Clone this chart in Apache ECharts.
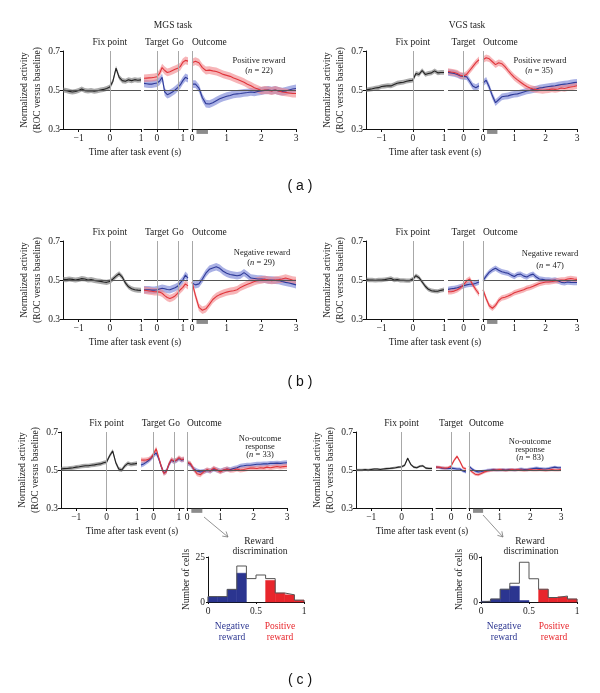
<!DOCTYPE html>
<html><head><meta charset="utf-8">
<script src="https://cdn.jsdelivr.net/npm/echarts@6/dist/echarts.min.js"></script>
<style>html,body{margin:0;padding:0;background:#fff}#c{width:600px;height:693px}</style>
</head><body><div id="c"></div>
<script>
// ---------- DATA ----------
const T1 = [-1.5,-1.4,-1.3,-1.2,-1.1,-1.0,-0.9,-0.8,-0.7,-0.6,-0.5,-0.4,-0.3,-0.2,-0.1,0,0.1,0.2,0.3,0.4,0.5,0.6,0.7,0.8,0.9,1.0];
const T2_MGS = [-0.5,-0.4,-0.3,-0.2,-0.1,0,0.1,0.2,0.3,0.4,0.5,0.6,0.7,0.8,0.9,1.0,1.1,1.2];
const T2_VGS = [-0.5,-0.4,-0.3,-0.2,-0.1,0,0.1,0.2,0.3,0.4,0.5];
const T3 = [0,0.1,0.2,0.3,0.4,0.5,0.6,0.7,0.8,0.9,1.0,1.1,1.2,1.3,1.4,1.5,1.6,1.7,1.8,1.9,2.0,2.1,2.2,2.3,2.4,2.5,2.6,2.7,2.8,2.9,3.0];

const TICKS_SEG1 = [-1,0,1];
const TICKS_SEG2_MGS = [0,1];
const TICKS_SEG2_VGS = [0];
const TICKS_SEG3 = [0,1,2,3];
const TICKS_Y = [0.3,0.5,0.7];
const GO_TIME = 0.81;
const REWARD_WINDOW = [0.13,0.46];

// (a) MGS positive reward
const aL_black = [0.500,0.497,0.493,0.490,0.492,0.497,0.505,0.497,0.495,0.497,0.494,0.496,0.500,0.503,0.508,0.515,0.545,0.612,0.565,0.548,0.545,0.552,0.548,0.553,0.550,0.552];
const aL_red2  = [0.560,0.561,0.562,0.563,0.565,0.568,0.585,0.615,0.600,0.590,0.594,0.600,0.606,0.612,0.620,0.642,0.652,0.648];
const aL_blue2 = [0.534,0.532,0.530,0.530,0.533,0.536,0.545,0.565,0.490,0.476,0.482,0.490,0.500,0.512,0.526,0.548,0.565,0.558];
const aL_red3  = [0.640,0.648,0.640,0.615,0.600,0.602,0.598,0.595,0.588,0.580,0.575,0.570,0.562,0.555,0.548,0.540,0.530,0.522,0.512,0.505,0.497,0.500,0.498,0.495,0.500,0.495,0.490,0.488,0.485,0.482,0.482];
const aL_blue3 = [0.530,0.530,0.510,0.460,0.430,0.428,0.435,0.445,0.455,0.462,0.468,0.472,0.478,0.480,0.482,0.485,0.487,0.490,0.488,0.492,0.495,0.498,0.500,0.497,0.500,0.495,0.492,0.495,0.500,0.505,0.508];
// (a) VGS positive reward
const aR_black = [0.500,0.503,0.506,0.510,0.512,0.518,0.520,0.522,0.521,0.528,0.535,0.538,0.540,0.545,0.548,0.550,0.585,0.580,0.600,0.580,0.585,0.588,0.598,0.588,0.590,0.590];
const aR_red2  = [0.595,0.592,0.590,0.585,0.575,0.572,0.580,0.600,0.620,0.640,0.655];
const aR_blue2 = [0.590,0.588,0.585,0.580,0.572,0.570,0.568,0.545,0.520,0.512,0.522];
const aR_red3  = [0.655,0.665,0.660,0.645,0.630,0.640,0.635,0.620,0.600,0.582,0.565,0.552,0.540,0.528,0.518,0.510,0.505,0.502,0.500,0.498,0.500,0.502,0.505,0.503,0.505,0.510,0.508,0.512,0.515,0.518,0.522];
const aR_blue3 = [0.535,0.550,0.515,0.470,0.435,0.450,0.465,0.468,0.470,0.475,0.478,0.480,0.485,0.490,0.495,0.498,0.502,0.505,0.510,0.512,0.515,0.518,0.520,0.522,0.525,0.528,0.530,0.532,0.535,0.538,0.540];
// (b) MGS negative reward
const bL_black = [0.503,0.502,0.505,0.503,0.500,0.503,0.507,0.505,0.500,0.502,0.498,0.495,0.493,0.490,0.488,0.492,0.505,0.520,0.532,0.515,0.485,0.465,0.455,0.450,0.448,0.447];
const bL_red2  = [0.448,0.446,0.444,0.442,0.440,0.440,0.438,0.432,0.420,0.410,0.405,0.410,0.418,0.432,0.450,0.462,0.480,0.470];
const bL_blue2 = [0.450,0.450,0.450,0.448,0.448,0.450,0.454,0.458,0.455,0.451,0.450,0.455,0.460,0.468,0.485,0.500,0.525,0.510];
const bL_red3  = [0.490,0.420,0.360,0.345,0.352,0.375,0.400,0.415,0.425,0.432,0.438,0.442,0.445,0.450,0.462,0.470,0.478,0.485,0.492,0.497,0.500,0.503,0.500,0.497,0.500,0.502,0.505,0.510,0.505,0.500,0.498];
const bL_blue3 = [0.485,0.475,0.480,0.505,0.535,0.555,0.562,0.568,0.560,0.545,0.535,0.528,0.525,0.522,0.525,0.538,0.525,0.510,0.508,0.505,0.505,0.503,0.500,0.500,0.498,0.497,0.492,0.488,0.485,0.480,0.475];
// (b) VGS negative reward
const bR_black = [0.502,0.500,0.500,0.498,0.500,0.500,0.502,0.505,0.508,0.500,0.502,0.498,0.498,0.497,0.497,0.505,0.522,0.512,0.490,0.468,0.452,0.445,0.443,0.442,0.447,0.450];
const bR_red2  = [0.440,0.440,0.443,0.450,0.460,0.475,0.495,0.505,0.475,0.450,0.428];
const bR_blue2 = [0.452,0.455,0.457,0.460,0.465,0.470,0.475,0.478,0.478,0.483,0.490];
const bR_red3  = [0.450,0.405,0.368,0.355,0.370,0.395,0.408,0.412,0.418,0.425,0.435,0.440,0.445,0.450,0.458,0.462,0.468,0.475,0.482,0.486,0.490,0.490,0.492,0.495,0.497,0.500,0.500,0.505,0.508,0.505,0.503];
const bR_blue3 = [0.497,0.520,0.540,0.552,0.560,0.550,0.542,0.538,0.535,0.525,0.518,0.528,0.530,0.520,0.515,0.525,0.530,0.515,0.505,0.503,0.500,0.500,0.498,0.500,0.495,0.488,0.486,0.490,0.488,0.487,0.487];
// (c) MGS no-outcome response
const cL_black = [0.505,0.507,0.508,0.510,0.512,0.515,0.517,0.520,0.522,0.522,0.525,0.527,0.530,0.532,0.538,0.542,0.575,0.600,0.540,0.505,0.500,0.522,0.535,0.530,0.532,0.535];
const cL_red2  = [0.553,0.552,0.553,0.556,0.565,0.585,0.612,0.565,0.520,0.482,0.490,0.530,0.555,0.548,0.552,0.565,0.555,0.558];
const cL_blue2 = [0.526,0.532,0.540,0.550,0.562,0.578,0.590,0.560,0.518,0.485,0.492,0.528,0.552,0.545,0.550,0.560,0.552,0.555];
const cL_red3  = [0.540,0.535,0.505,0.480,0.475,0.490,0.502,0.495,0.510,0.500,0.490,0.500,0.505,0.498,0.500,0.505,0.500,0.503,0.507,0.510,0.510,0.508,0.512,0.510,0.515,0.512,0.515,0.518,0.515,0.518,0.520];
const cL_blue3 = [0.538,0.530,0.505,0.495,0.490,0.492,0.498,0.495,0.505,0.500,0.495,0.500,0.505,0.502,0.508,0.512,0.520,0.522,0.525,0.525,0.528,0.530,0.530,0.532,0.532,0.535,0.535,0.536,0.535,0.537,0.538];
// (c) VGS no-outcome response
const cR_black = [0.500,0.500,0.500,0.502,0.500,0.503,0.505,0.505,0.503,0.505,0.507,0.508,0.510,0.512,0.515,0.517,0.525,0.562,0.530,0.515,0.512,0.520,0.522,0.510,0.508,0.508];
const cR_red2  = [0.515,0.515,0.512,0.510,0.512,0.520,0.550,0.572,0.545,0.512,0.505];
const cR_blue2 = [0.515,0.513,0.510,0.508,0.508,0.510,0.508,0.505,0.505,0.495,0.490];
const cR_red3  = [0.505,0.490,0.478,0.475,0.482,0.490,0.495,0.497,0.500,0.500,0.502,0.500,0.498,0.500,0.502,0.500,0.502,0.500,0.498,0.500,0.502,0.500,0.500,0.502,0.500,0.498,0.500,0.502,0.500,0.500,0.502];
const cR_blue3 = [0.520,0.505,0.495,0.490,0.492,0.495,0.498,0.500,0.502,0.500,0.500,0.502,0.500,0.503,0.502,0.500,0.503,0.505,0.503,0.502,0.505,0.508,0.510,0.508,0.506,0.505,0.508,0.512,0.515,0.512,0.512];

// SEM half-widths [black, red/blue]
const SEM_aL = [0.013,0.020], SEM_aR = [0.012,0.017], SEM_bL = [0.013,0.019];
const SEM_bR = [0.011,0.014], SEM_cL = [0.011,0.013], SEM_cR = [0.006,0.008];

// Reward discrimination histograms
const HIST_EDGES = [0,0.1,0.2,0.3,0.4,0.5,0.6,0.7,0.8,0.9,1.0];
const histL_total = [3,3,7,20,13,15,13,5,4,1];
const histL_neg   = [3,3,7,16,0,0,0,0,0,0];
const histL_pos   = [0,0,0,0,0,0,12,5,4,1];
const histR_total = [1,4,17,25,53,31,17,6,8,4];
const histR_neg   = [1,4,17,21,2,0,0,0,0,0];
const histR_pos   = [0,0,0,0,0,0,17,6,7,4];
const HIST_L_TICKS_Y = [0,25];
const HIST_R_TICKS_Y = [0,60];
const HIST_TICKS_X = [0,0.5,1];

// ---------- STYLE / LAYOUT ----------
const F = '"Liberation Serif","DejaVu Serif",serif';
const FS = 9.5;
const RED = '#e0353b', RED_BAND = 'rgba(242,128,132,0.58)';
const BLUE = '#2e3a98', BLUE_BAND = 'rgba(108,120,210,0.58)';
const BLACK = '#222', BLACK_BAND = 'rgba(110,110,110,0.58)';
const HIST_BLUE = '#2b3590', HIST_RED = '#e8262c';

const LAYOUT = {
  aL:{top:51,h:78,segs:[[63,78],[144,44],[192,104]]},
  aR:{top:51,h:78,segs:[[366,78],[448,31],[483,94]]},
  bL:{top:241,h:78,segs:[[63,78],[144,44],[192,104]]},
  bR:{top:241,h:78,segs:[[366,78],[448,31],[483,94]]},
  cL:{top:432,h:76,segs:[[61,76],[141,43],[187,100]]},
  cR:{top:432,h:76,segs:[[356,76],[436,30],[469,92]]}
};

const PANELS = [
  {L:LAYOUT.aL, k:aL_black, r2:aL_red2, b2:aL_blue2, r3:aL_red3, b3:aL_blue3, t2:T2_MGS, ticks2:TICKS_SEG2_MGS, go:true, sem:SEM_aL},
  {L:LAYOUT.aR, k:aR_black, r2:aR_red2, b2:aR_blue2, r3:aR_red3, b3:aR_blue3, t2:T2_VGS, ticks2:TICKS_SEG2_VGS, go:false, sem:SEM_aR},
  {L:LAYOUT.bL, k:bL_black, r2:bL_red2, b2:bL_blue2, r3:bL_red3, b3:bL_blue3, t2:T2_MGS, ticks2:TICKS_SEG2_MGS, go:true, sem:SEM_bL},
  {L:LAYOUT.bR, k:bR_black, r2:bR_red2, b2:bR_blue2, r3:bR_red3, b3:bR_blue3, t2:T2_VGS, ticks2:TICKS_SEG2_VGS, go:false, sem:SEM_bR},
  {L:LAYOUT.cL, k:cL_black, r2:cL_red2, b2:cL_blue2, r3:cL_red3, b3:cL_blue3, t2:T2_MGS, ticks2:TICKS_SEG2_MGS, go:true, sem:SEM_cL, arrow:[[204,517],[228,537]]},
  {L:LAYOUT.cR, k:cR_black, r2:cR_red2, b2:cR_blue2, r3:cR_red3, b3:cR_blue3, t2:T2_VGS, ticks2:TICKS_SEG2_VGS, go:false, sem:SEM_cR, arrow:[[483,515],[503,537]]}
];

const grids=[], xAxes=[], yAxes=[], series=[], graphics=[];
const fmtNum = v => (v < 0 ? '\u2212' + Math.abs(v) : String(v));

function addGrid(left, top, w, h){ grids.push({left, top, width:w, height:h}); return grids.length-1; }
function xAx(g, min, max, ticks){
  return {gridIndex:g, type:'value', min, max,
    axisLine:{show:true, onZero:false, lineStyle:{color:'#111', width:1}},
    axisTick:{show:true, length:3, customValues:ticks, lineStyle:{color:'#111'}},
    axisLabel:{customValues:ticks, fontFamily:F, fontSize:FS, color:'#222', margin:4, formatter:fmtNum},
    splitLine:{show:false}};
}
function yAx(g, show){
  const a = {gridIndex:g, type:'value', min:0.3, max:0.7, show:show, splitLine:{show:false},
    axisLine:{show:true, onZero:false, lineStyle:{color:'#111', width:1}},
    axisTick:{show:true, length:3, customValues:TICKS_Y, lineStyle:{color:'#111'}},
    axisLabel:{customValues:TICKS_Y, fontFamily:F, fontSize:FS, color:'#222', margin:3, formatter:v=>v.toFixed(1)}};
  if (show){
    Object.assign(a, {name:'Normalized activity\n(ROC versus baseline)', nameLocation:'middle', nameGap:19,
      nameTextStyle:{fontFamily:F, fontSize:FS, color:'#222', lineHeight:13}});
  }
  return a;
}
function ml(data){ return {silent:true, symbol:['none','none'], animation:false, data}; }
function hline(){ return {yAxis:0.5, lineStyle:{color:'#555', width:1, type:'solid'}, label:{show:false}}; }
function vline(x, text, align){
  return {xAxis:x, lineStyle:{color:'#a8a8a8', width:1, type:'solid'},
    label:{show:true, position:'end', formatter:text, fontFamily:F, fontSize:FS, color:'#222', distance:4, align:align||'center'}};
}
function addTrace(g, times, vals, sem, color, bandColor, extra){
  series.push({type:'custom', xAxisIndex:g, yAxisIndex:g, silent:true, z:2,
    data: times.map((t,i)=>[t, vals[i]-sem, vals[i]+sem]),
    encode:{x:0, y:[1,2]},
    renderItem:(params, api)=>{
      if (params.dataIndex !== 0) return null;
      const up = times.map((t,i)=>api.coord([t, vals[i]+sem]));
      const dn = times.map((t,i)=>api.coord([t, vals[i]-sem])).reverse();
      return {type:'polygon', shape:{points:up.concat(dn)}, style:{fill:bandColor}};
    }});
  const m = {type:'line', xAxisIndex:g, yAxisIndex:g, data:times.map((t,i)=>[t, vals[i]]),
    symbol:'none', lineStyle:{color, width:1.1}, silent:true, z:3};
  if (extra) Object.assign(m, extra);
  series.push(m);
}

PANELS.forEach(p => {
  const {top, h, segs} = p.L;
  const g1 = addGrid(segs[0][0], top, segs[0][1], h);
  xAxes.push(xAx(g1, T1[0], T1[T1.length-1], TICKS_SEG1)); yAxes.push(yAx(g1, true));
  addTrace(g1, T1, p.k, p.sem[0], BLACK, BLACK_BAND, {markLine: ml([hline(), vline(0,'Fix point')])});
  const g2 = addGrid(segs[1][0], top, segs[1][1], h);
  xAxes.push(xAx(g2, p.t2[0], p.t2[p.t2.length-1], p.ticks2)); yAxes.push(yAx(g2, false));
  const ev2 = [hline(), vline(0,'Target')];
  if (p.go) ev2.push(vline(GO_TIME,'Go'));
  addTrace(g2, p.t2, p.b2, p.sem[1], BLUE, BLUE_BAND, {markLine: ml(ev2)});
  addTrace(g2, p.t2, p.r2, p.sem[1], RED, RED_BAND);
  const g3 = addGrid(segs[2][0], top, segs[2][1], h);
  xAxes.push(xAx(g3, T3[0], T3[T3.length-1], TICKS_SEG3)); yAxes.push(yAx(g3, false));
  addTrace(g3, T3, p.b3, p.sem[1], BLUE, BLUE_BAND, {markLine: ml([hline(), vline(0,'Outcome','left')])});
  addTrace(g3, T3, p.r3, p.sem[1], RED, RED_BAND);
  series.push({type:'line', xAxisIndex:g3, yAxisIndex:g3, data:REWARD_WINDOW.map(t=>[t,0.285]), symbol:'none',
    clip:false, lineStyle:{color:'#8c8c8c', width:4, cap:'butt'}, silent:true, z:4});
  if (p.arrow){
    const [[x1,y1],[x2,y2]] = p.arrow;
    const d = Math.hypot(x2-x1, y2-y1), ux=(x2-x1)/d, uy=(y2-y1)/d;
    graphics.push({type:'line', shape:{x1,y1,x2,y2}, style:{stroke:'#777', lineWidth:0.8}});
    graphics.push({type:'polyline', shape:{points:[[x2-ux*5-uy*3, y2-uy*5+ux*3],[x2,y2],[x2-ux*5+uy*3, y2-uy*5-ux*3]]},
      style:{stroke:'#777', lineWidth:0.8, fill:null}});
  }
});

function rects(g, counts, fill){
  series.push({type:'custom', xAxisIndex:g, yAxisIndex:g, silent:true, z:2,
    data: counts.map((c,i)=>[HIST_EDGES[i], HIST_EDGES[i+1], c]),
    renderItem:(params, api)=>{
      if (!api.value(2)) return null;
      const p0 = api.coord([api.value(0), api.value(2)]);
      const p1 = api.coord([api.value(1), 0]);
      return {type:'rect', shape:{x:p0[0], y:p0[1], width:p1[0]-p0[0], height:p1[1]-p0[1]},
        style:{fill, stroke:fill, lineWidth:0.5}};
    }});
}
function addHist(left, top, total, neg, pos, yticks){
  const g = addGrid(left, top, 96, 45);
  xAxes.push({gridIndex:g, type:'value', min:0, max:1,
    axisLine:{show:true, onZero:false, lineStyle:{color:'#111'}},
    axisTick:{show:true, length:2, customValues:HIST_TICKS_X, lineStyle:{color:'#111'}},
    axisLabel:{customValues:HIST_TICKS_X, fontFamily:F, fontSize:FS, color:'#222', margin:4, formatter:v=>String(v)},
    splitLine:{show:false}});
  yAxes.push({gridIndex:g, type:'value', min:0, max:yticks[yticks.length-1],
    axisLine:{show:true, onZero:false, lineStyle:{color:'#111'}},
    axisTick:{show:true, length:2, customValues:yticks, lineStyle:{color:'#111'}},
    axisLabel:{customValues:yticks, fontFamily:F, fontSize:FS, color:'#222', margin:3},
    splitLine:{show:false},
    name:'Number of cells', nameLocation:'middle', nameGap:17, nameTextStyle:{fontFamily:F, fontSize:FS, color:'#222'}});
  rects(g, neg, HIST_BLUE);
  rects(g, pos, HIST_RED);
  const step = [[0,0]];
  total.forEach((c,i)=>step.push([HIST_EDGES[i], c]));
  step.push([1, total[total.length-1]]); step.push([1,0]);
  series.push({type:'line', xAxisIndex:g, yAxisIndex:g, data:step, step:'end', symbol:'none',
    lineStyle:{color:'#555', width:1}, silent:true, z:3});
}
addHist(208, 557, histL_total, histL_neg, histL_pos, HIST_L_TICKS_Y);
addHist(481, 557, histR_total, histR_neg, histR_pos, HIST_R_TICKS_Y);

function txt(x, y, text, opts){
  const o = opts || {};
  graphics.push({type:'text', x, y, silent:true, z:10, style:Object.assign({text, textAlign:'center', textVerticalAlign:'middle',
    fontFamily:F, fontSize:FS, fill:'#222'}, o)});
}
const richN = {i:{fontStyle:'italic', fontFamily:F, fontSize:8.5, fill:'#222'}};
txt(173, 25, 'MGS task'); txt(467, 25, 'VGS task');
[[135,152],[435,152],[135,342],[435,342],[132,531],[422,531]].forEach(([x,y])=>txt(x,y,'Time after task event (s)'));
txt(259, 61, 'Positive reward', {fontSize:8.5}); txt(259, 71, '({i|n} = 22)', {fontSize:8.5, rich:richN});
txt(540, 61, 'Positive reward', {fontSize:8.5}); txt(539, 71, '({i|n} = 35)', {fontSize:8.5, rich:richN});
txt(262, 253, 'Negative reward', {fontSize:8.5}); txt(261, 263, '({i|n} = 29)', {fontSize:8.5, rich:richN});
txt(550, 254, 'Negative reward', {fontSize:8.5}); txt(550, 266, '({i|n} = 47)', {fontSize:8.5, rich:richN});
txt(260, 439, 'No-outcome', {fontSize:8.5}); txt(260, 446.5, 'response', {fontSize:8.5}); txt(260, 454.5, '({i|n} = 33)', {fontSize:8.5, rich:richN});
txt(530, 442, 'No-outcome', {fontSize:8.5}); txt(530, 449.5, 'response', {fontSize:8.5}); txt(530, 457.5, '({i|n} = 83)', {fontSize:8.5, rich:richN});
txt(259, 541, 'Reward'); txt(260, 551, 'discrimination');
txt(530, 541, 'Reward'); txt(531, 551, 'discrimination');
txt(232, 626, 'Negative', {fill:'#2b3590'}); txt(232, 637, 'reward', {fill:'#2b3590'});
txt(280, 626, 'Positive', {fill:'#e8262c'}); txt(280, 637, 'reward', {fill:'#e8262c'});
txt(504, 626, 'Negative', {fill:'#2b3590'}); txt(504, 637, 'reward', {fill:'#2b3590'});
txt(554, 626, 'Positive', {fill:'#e8262c'}); txt(554, 637, 'reward', {fill:'#e8262c'});
const SANS = '"Liberation Sans",Arial,sans-serif';
txt(300, 186, '( a )', {fontFamily:SANS, fontSize:14, fill:'#111'});
txt(300, 382, '( b )', {fontFamily:SANS, fontSize:14, fill:'#111'});
txt(300, 680, '( c )', {fontFamily:SANS, fontSize:14, fill:'#111'});

const chart = echarts.init(document.getElementById('c'), null, {renderer:'canvas'});
chart.setOption({animation:false, backgroundColor:'#fff', grid:grids, xAxis:xAxes, yAxis:yAxes, series, graphic:graphics});
</script></body></html>
